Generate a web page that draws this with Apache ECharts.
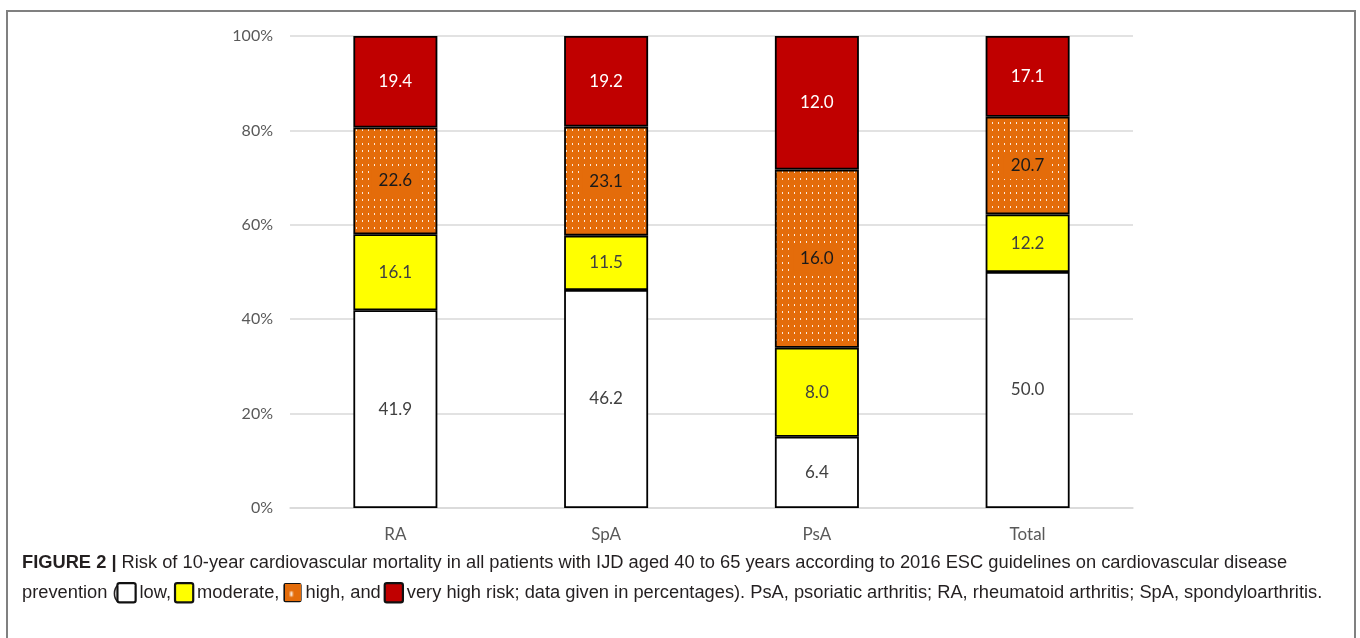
<!DOCTYPE html>
<html>
<head>
<meta charset="utf-8">
<script src="https://cdn.jsdelivr.net/npm/echarts@6/dist/echarts.min.js"></script>
<style>
  html, body { margin: 0; padding: 0; background: #fff; }
  #chart { width: 1360px; height: 638px; }
</style>
</head>
<body>
<div id="chart"></div>
<script>
// Patient groups on the x axis
const categories = ['RA', 'SpA', 'PsA', 'Total'];
// Risk classes, bottom to top of each stacked bar
const riskLow      = [41.9, 46.2, 6.4, 50.0];
const riskModerate = [16.1, 11.5, 8.0, 12.2];
const riskHigh     = [22.6, 23.1, 16.0, 20.7];
const riskVeryHigh = [19.4, 19.2, 12.0, 17.1];
const yTicks = [0, 20, 40, 60, 80, 100];

const ORANGE = '#E46C0A';
const RED = '#C00000';
const YELLOW = '#FFFF00';

// dotted orange fill used for the "high" class
function dotTile() {
  const c = document.createElement('canvas');
  c.width = 6; c.height = 7;
  const g = c.getContext('2d');
  g.fillStyle = ORANGE;
  g.fillRect(0, 0, 6, 7);
  g.fillStyle = 'rgba(255,255,255,0.85)';
  g.fillRect(2, 3, 1, 2);
  return c;
}
const dotted = { image: dotTile(), repeat: 'repeat' };

// each bar is scaled so its four classes fill 100 %
const totals = categories.map((_, i) =>
  riskLow[i] + riskModerate[i] + riskHigh[i] + riskVeryHigh[i]);
const share = arr => arr.map((v, i) => ({ value: v / totals[i] * 100, raw: v }));

const FONT = 'Lato, "Open Sans", sans-serif';

function segment(name, arr, fill, labelColor, labelBg) {
  return {
    name: name,
    type: 'bar',
    stack: 'risk',
    barWidth: 84,
    data: share(arr),
    itemStyle: { color: fill, borderColor: '#000', borderWidth: 1.8 },
    label: {
      show: true,
      position: 'inside',
      color: labelColor,
      fontFamily: FONT,
      fontSize: 17,
      backgroundColor: labelBg || 'transparent',
      padding: labelBg ? [5, 7] : 0,
      formatter: p => p.data.raw.toFixed(1)
    },
    emphasis: { disabled: true }
  };
}

const chart = echarts.init(document.getElementById('chart'), null, { renderer: 'canvas' });

const capFont = '"Liberation Sans", Arial, sans-serif';
const capSize = 18.3;
const box = (fill) => ({
  width: 16, height: 17, backgroundColor: fill,
  borderColor: '#111', borderWidth: 2.2, borderRadius: 1
});

chart.setOption({
  animation: false,
  backgroundColor: '#fff',
  grid: { left: 290, right: 227, top: 36, bottom: 130 },
  xAxis: {
    type: 'category',
    data: categories,
    axisLine: { lineStyle: { color: '#d9d9d9', width: 1.5 } },
    axisTick: { show: false },
    axisLabel: { color: '#595959', fontFamily: FONT, fontSize: 17, margin: 18 }
  },
  yAxis: {
    type: 'value',
    min: yTicks[0],
    max: yTicks[yTicks.length - 1],
    interval: 20,
    axisLine: { show: false },
    axisTick: { show: false },
    splitLine: { lineStyle: { color: '#d9d9d9', width: 1.5 } },
    axisLabel: { color: '#595959', fontFamily: FONT, fontSize: 16, margin: 17,
                 formatter: '{value}%' }
  },
  series: [
    segment('low', riskLow, '#ffffff', '#404040'),
    segment('moderate', riskModerate, YELLOW, '#404040'),
    segment('high', riskHigh, dotted, '#1a1a1a', ORANGE),
    segment('very high', riskVeryHigh, RED, '#ffffff')
  ],
  graphic: [
    {
      type: 'rect',
      shape: { x: 7, y: 11, width: 1348, height: 700 },
      style: { fill: 'none', stroke: '#808080', lineWidth: 2 },
      silent: true
    },
    {
      type: 'text',
      left: 22, top: 554,
      style: {
        text: '{b|FIGURE 2 |} Risk of 10-year cardiovascular mortality in all patients with IJD aged 40 to 65 years according to 2016 ESC guidelines on cardiovascular disease',
        font: capSize + 'px ' + capFont,
        fill: '#231f20',
        rich: { b: { fontWeight: 'bold', fontSize: capSize, fontFamily: capFont, fill: '#231f20' } }
      }
    },
    {
      type: 'text',
      left: 22, top: 582,
      style: {
        text: 'prevention ({lo|}{sp| }low, {mo|}{sp| }moderate, {hi|}{sp| }high, and {vh|}{sp| }very high risk; data given in percentages). PsA, psoriatic arthritis; RA, rheumatoid arthritis; SpA, spondyloarthritis.',
        font: capSize + 'px ' + capFont,
        fill: '#231f20',
        rich: {
          sp: { width: 5, fontSize: capSize, fontFamily: capFont },
          lo: box('#ffffff'),
          mo: box(YELLOW),
          hi: box(dotted),
          vh: box(RED)
        }
      }
    }
  ]
});
</script>
</body>
</html>
